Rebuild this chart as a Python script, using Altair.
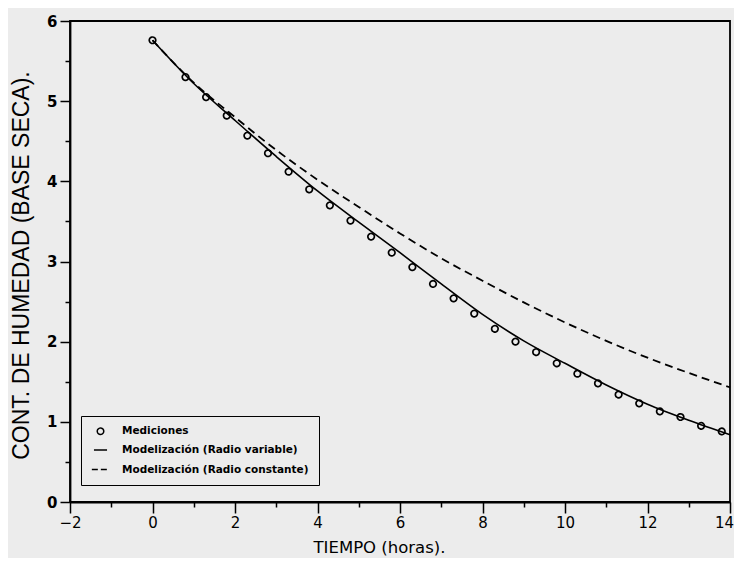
import altair as alt
import pandas as pd

# ---- data ----
series = ["Mediciones", "Modelización (Radio variable)", "Modelización (Radio constante)"]

t_med = [0.0, 0.8, 1.3, 1.8, 2.3, 2.8, 3.3, 3.8, 4.3, 4.8, 5.3, 5.8, 6.3, 6.8,
         7.3, 7.8, 8.3, 8.8, 9.3, 9.8, 10.3, 10.8, 11.3, 11.8, 12.3, 12.8, 13.3, 13.8]
y_med = [5.76, 5.30, 5.05, 4.82, 4.57, 4.35, 4.12, 3.90, 3.70, 3.51, 3.31, 3.11, 2.93, 2.72,
         2.54, 2.35, 2.16, 2.00, 1.87, 1.73, 1.60, 1.48, 1.34, 1.23, 1.13, 1.06, 0.95, 0.88]

t_mod = [0, 1, 2, 3, 4, 5, 6, 7, 8, 9, 10, 11, 12, 13, 14]
y_var = [5.76, 5.22, 4.76, 4.31, 3.88, 3.49, 3.11, 2.72, 2.34, 2.01, 1.73, 1.46, 1.22, 1.02, 0.84]
y_const = [5.76, 5.23, 4.80, 4.39, 4.02, 3.68, 3.35, 3.04, 2.76, 2.49, 2.24, 2.01, 1.80, 1.61, 1.43]

x_ticks = list(range(-2, 15))
y_ticks = [i / 2 for i in range(0, 13)]

med = pd.DataFrame({"t": t_med, "y": y_med, "serie": series[0]})
var = pd.DataFrame({"t": t_mod, "y": y_var})
const = pd.DataFrame({"t": t_mod, "y": y_const})

FONT = "DejaVu Sans"

x_axis = alt.Axis(
    values=x_ticks, format="d",
    labelExpr="datum.value % 2 === 0 ? datum.label : ''",
    tickSize={"condition": {"test": "datum.value % 2 === 0", "value": 11}, "value": 5},
    labelOffset={"condition": {"test": "datum.value === 14", "value": -6}, "value": 0},
    tickWidth=1.5, tickColor="black", domainColor="black", domainWidth=1.8,
    grid=False, labelFlush=False, labelOverlap=False,
    labelFont=FONT, labelFontSize=15, labelColor="black", labelPadding=2,
    title="TIEMPO (horas).", titleFont=FONT, titleFontSize=16.5, titleFontWeight="normal",
    titleColor="black", titleX=309, titleY=50, titleAlign="center", titleBaseline="alphabetic",
)
y_axis = alt.Axis(
    values=y_ticks, format=".0f",
    labelExpr="datum.value % 1 === 0 ? datum.label : ''",
    tickSize={"condition": {"test": "datum.value % 1 === 0", "value": 10}, "value": 5},
    tickWidth=1.5, tickColor="black", domainColor="black", domainWidth=1.8,
    grid=False, labelOverlap=False,
    labelFont=FONT, labelFontSize=15, labelFontWeight="bold", labelColor="black", labelPadding=3,
    title="CONT. DE HUMEDAD (BASE SECA).", titleFont="Liberation Sans", titleFontSize=23,
    titleFontWeight="normal", titleColor="black", titleX=-49, titleY=244,
    titleAlign="center", titleBaseline="middle", titleAngle=270,
)

xs = alt.Scale(domain=[-2, 14], nice=False, zero=False)
ys = alt.Scale(domain=[0, 6], nice=False, zero=False)

leg = alt.Legend(
    orient="none", legendX=11, legendY=395, title=None,
    padding=10, strokeColor="black", fillColor="transparent",
    labelFont=FONT, labelFontSize=10.5, labelFontWeight="bold", labelColor="black",
    labelLimit=0, labelOffset=12, rowPadding=4.5,
    symbolStrokeWidth=1.5, symbolStrokeColor="black", symbolFillColor="transparent",
)

points = alt.Chart(med).mark_point(
    filled=False, color="black", strokeWidth=1.7, opacity=1
).encode(
    x=alt.X("t:Q", scale=xs, axis=x_axis),
    y=alt.Y("y:Q", scale=ys, axis=y_axis),
    shape=alt.Shape("serie:N", scale=alt.Scale(domain=series, range=["circle", "stroke", "stroke"]), legend=leg),
    size=alt.Size("serie:N", scale=alt.Scale(domain=series, range=[42, 300, 300]), legend=leg),
    strokeDash=alt.StrokeDash("serie:N", scale=alt.Scale(domain=series, range=[[1, 0], [1, 0], [6, 3]]), legend=leg),
)

line_var = alt.Chart(var).mark_line(color="black", strokeWidth=1.6, interpolate="monotone").encode(
    x=alt.X("t:Q", scale=xs, axis=x_axis),
    y=alt.Y("y:Q", scale=ys, axis=y_axis),
)
line_const = alt.Chart(const).mark_line(
    color="black", strokeWidth=1.8, strokeDash=[8, 5], interpolate="monotone"
).encode(
    x=alt.X("t:Q", scale=xs, axis=x_axis),
    y=alt.Y("y:Q", scale=ys, axis=y_axis),
)

chart = alt.layer(line_const, line_var, points).properties(
    width=660, height=481,
    autosize=alt.AutoSizeParams(type="none"),
    padding={"left": 62, "top": 13, "right": 4, "bottom": 56},
).configure(background="#ececec").configure_view(stroke="black", strokeWidth=1.8, fill=None)

chart.save("out.html", embed_options={"renderer": "svg", "actions": False})
